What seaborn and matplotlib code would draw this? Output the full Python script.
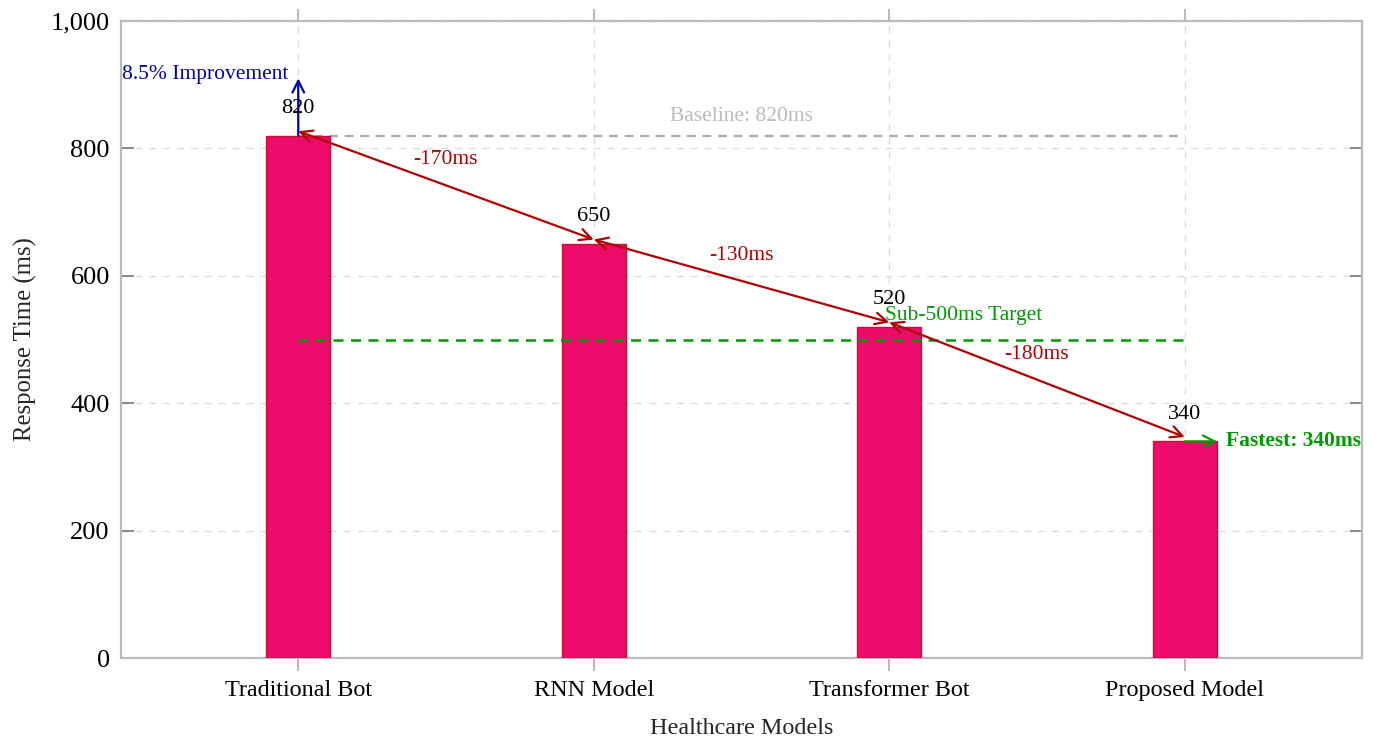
import matplotlib
matplotlib.use("Agg")
import matplotlib.pyplot as plt
import matplotlib.ticker as mticker
import seaborn as sns
import pandas as pd

# Response times of the healthcare chatbot models
models = ["Traditional Bot", "RNN Model", "Transformer Bot", "Proposed Model"]
response_ms = [820, 650, 520, 340]
y_ticks = [0, 200, 400, 600, 800, 1000]
baseline_ms = 820
target_ms = 500
improvement_top = 910

sns.set_theme(style="white")
plt.rcParams["font.family"] = ["Liberation Serif", "DejaVu Serif"]
plt.rcParams["mathtext.fontset"] = "stix"

BAR = "#EC0B6B"
BAR_EDGE = "#C4122F"
RED = "#B30000"
GREEN = "#009900"
BLUE = "#0000B3"
GRAY = "#BBBBBB"

df = pd.DataFrame({"Model": models, "Response": response_ms})

fig = plt.figure(figsize=(13.73, 7.38), dpi=100)
ax = fig.add_axes([0.0881, 0.1084, 0.9039, 0.8631])

sns.barplot(data=df, x="Model", y="Response", order=models, color=BAR,
            width=0.217, edgecolor=BAR_EDGE, linewidth=1.0, saturation=1,
            ax=ax, zorder=3)

ax.set_xlim(-0.6, 3.6)
ax.set_ylim(0, 1000)
ax.set_yticks(y_ticks)
ax.yaxis.set_major_formatter(mticker.FuncFormatter(lambda v, p: f"{int(v):,}"))

# grid and frame
ax.grid(True, which="major", axis="both", color="#DDDDDD", linestyle=(0, (5, 5)),
        linewidth=1.0, zorder=0)
ax.set_axisbelow(True)
for s in ax.spines.values():
    s.set_color(GRAY)
    s.set_linewidth(1.6)
ax.tick_params(axis="x", direction="out", length=9, width=1.2, color="#AAAAAA",
               top=True, bottom=True, labelsize=17.4, pad=7, labelcolor="black")
ax.tick_params(axis="y", direction="in", length=9, width=1.2, color="#777777",
               left=True, right=True, labelsize=19, pad=8, labelcolor="black")

ax.set_xlabel("Healthcare Models", fontsize=17.4, labelpad=12)
ax.set_ylabel("Response Time (ms)", fontsize=17.8, labelpad=10)

x_pos = list(range(len(models)))

# baseline reference
ax.plot([x_pos[0], x_pos[-1]], [baseline_ms, baseline_ms], color="#AAAAAA",
        linestyle=(0, (4, 3)), linewidth=1.6, zorder=2)
ax.text((x_pos[0] + x_pos[-1]) / 2, baseline_ms + 30, f"Baseline: {baseline_ms}ms",
        color=GRAY, fontsize=15.5, ha="center", va="center")

# sub-500 ms target
ax.plot([x_pos[0], x_pos[-1]], [target_ms, target_ms], color=GREEN,
        linestyle=(0, (4, 3)), linewidth=1.8, zorder=4)
ax.text(x_pos[2] - 0.015, target_ms + 38, f"Sub-{target_ms}ms Target", color=GREEN,
        fontsize=15.5, ha="left", va="center", zorder=6)

# value labels
for xi, v in zip(x_pos, response_ms):
    ax.text(xi, v + 43, f"{v}", color="black", fontsize=16, ha="center",
            va="center", zorder=6)

# step-to-step reductions
for i in range(len(response_ms) - 1):
    a, b = response_ms[i], response_ms[i + 1]
    ax.annotate("", xy=(x_pos[i + 1], b + 7), xytext=(x_pos[i], a + 7),
                arrowprops=dict(arrowstyle="<->,head_length=0.7,head_width=0.35",
                                color=RED, lw=1.6, shrinkA=0, shrinkB=0),
                zorder=5)
    ax.text(x_pos[i] + 0.5, (a + b) / 2 + 47, f"-{a - b}ms", color=RED,
            fontsize=15.5, ha="center", va="center", zorder=6)

# improvement marker on the first bar
ax.annotate("", xy=(x_pos[0], improvement_top), xytext=(x_pos[0], response_ms[0]),
            arrowprops=dict(arrowstyle="->,head_length=0.7,head_width=0.35",
                            color=BLUE, lw=1.6, shrinkA=0, shrinkB=0), zorder=5)
ax.annotate("8.5% Improvement", xy=(x_pos[0], improvement_top), xytext=(-7, 3),
            textcoords="offset points", color=BLUE, fontsize=15.5, ha="right",
            va="center", zorder=6)

# fastest model marker
fast_i = response_ms.index(min(response_ms))
ax.annotate("", xy=(x_pos[fast_i] + 0.11, response_ms[fast_i]),
            xytext=(x_pos[fast_i], response_ms[fast_i]),
            arrowprops=dict(arrowstyle="->,head_length=0.7,head_width=0.35",
                            color=GREEN, lw=1.6, shrinkA=0, shrinkB=0), zorder=5)
ax.text(x_pos[fast_i] + 0.14, response_ms[fast_i], f"Fastest: {min(response_ms)}ms",
        color=GREEN, fontsize=15.5, fontweight="bold", ha="left", va="center", zorder=6)

fig.savefig("out.png", dpi=100)
